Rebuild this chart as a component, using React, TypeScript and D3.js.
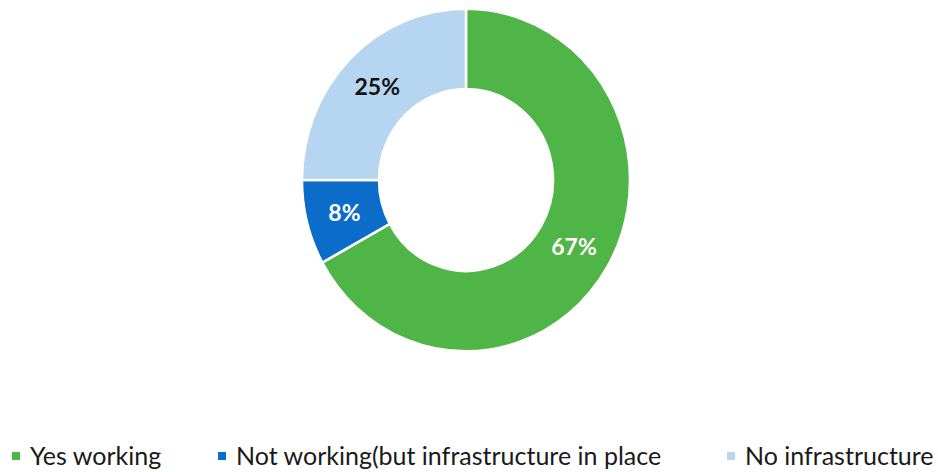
import { useEffect, useRef } from "react";
import * as d3 from "d3";

const categories = [
  "Yes working",
  "Not working(but infrastructure in place",
  "No infrastructure",
];
const values = [67, 8, 25];
const colors = ["#50B547", "#0B6CC9", "#B5D5F0"];
const labelColors = ["#FFFFFF", "#FFFFFF", "#111111"];

const W = 938;
const H = 472;

const App: React.FC = () => {
  const ref = useRef<SVGSVGElement>(null);

  useEffect(() => {
    const svg = d3.select(ref.current);
    svg.selectAll("*").remove();

    const cx = 466;
    const cy = 180;
    const outerR = 164;
    const innerR = 87;
    const squash = 1.045;

    const data = categories.map((c, i) => ({ name: c, value: values[i], i }));
    const pie = d3
      .pie<{ name: string; value: number; i: number }>()
      .value((d) => d.value)
      .sort(null);
    const arc = d3
      .arc<d3.PieArcDatum<{ name: string; value: number; i: number }>>()
      .innerRadius(innerR)
      .outerRadius(outerR);

    const arcs = pie(data);

    const g = svg
      .append("g")
      .attr("transform", `translate(${cx},${cy}) scale(1,${squash})`);

    g.selectAll("path")
      .data(arcs)
      .enter()
      .append("path")
      .attr("d", arc)
      .attr("fill", (d) => colors[d.data.i])
      .attr("stroke", "#FFFFFF")
      .attr("stroke-width", 2.5)
      .attr("stroke-linejoin", "miter");

    // percentage labels at the centroid of each slice
    svg
      .append("g")
      .selectAll("text")
      .data(arcs)
      .enter()
      .append("text")
      .attr("x", (d) => cx + arc.centroid(d)[0])
      .attr("y", (d) => cy + arc.centroid(d)[1] * squash)
      .attr("dy", "0.35em")
      .attr("text-anchor", "middle")
      .attr("font-family", "Lato, 'Open Sans', sans-serif")
      .attr("font-weight", 700)
      .attr("font-size", 23)
      .attr("fill", (d) => labelColors[d.data.i])
      .text((d) => `${d.data.value}%`);

    // legend
    const legendX = [12, 218, 727];
    const legendY = 456;
    const lg = svg
      .append("g")
      .selectAll("g")
      .data(categories)
      .enter()
      .append("g")
      .attr("transform", (_, i) => `translate(${legendX[i]},${legendY})`);

    lg.append("rect")
      .attr("x", 0)
      .attr("y", -4)
      .attr("width", 8)
      .attr("height", 8)
      .attr("fill", (_, i) => colors[i]);

    lg.append("text")
      .attr("x", 18)
      .attr("y", 0)
      .attr("dy", "0.35em")
      .attr("font-family", "Lato, 'Open Sans', sans-serif")
      .attr("font-size", 25)
      .attr("fill", "#1A1A1A")
      .text((d) => d);
  }, []);

  return (
    <svg
      ref={ref}
      width={W}
      height={H}
      style={{ position: "absolute", left: 0, top: 0, background: "#FFFFFF" }}
    />
  );
};

export default App;
